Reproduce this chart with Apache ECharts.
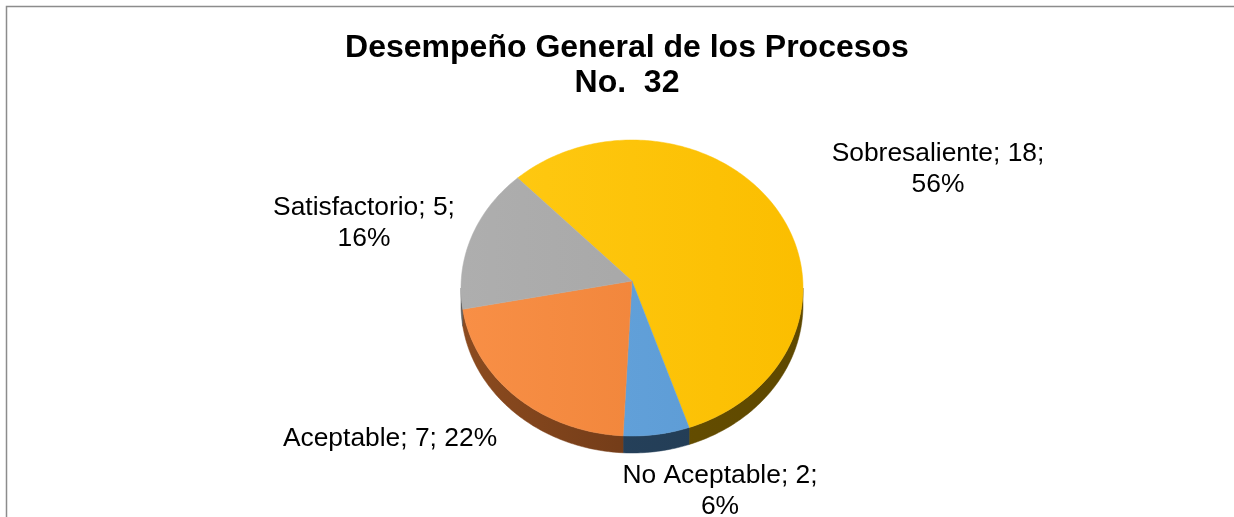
<!DOCTYPE html>
<html><head><meta charset="utf-8">
<script src="https://cdn.jsdelivr.net/npm/echarts@6/dist/echarts.min.js"></script>
<style>html,body{margin:0;padding:0;background:#fff}#c{width:1234px;height:517px}</style>
</head><body><div id="c"></div>
<script>
// ---- data ----
const titleLines = ['Desempeño General de los Procesos', 'No.  32'];
const categories = ['Sobresaliente', 'No Aceptable', 'Aceptable', 'Satisfactorio'];
const values = [18, 2, 7, 5];

// ---- styles / layout ----
const topColors = [['#FFCA14', '#FBBE00'], ['#67A7DF', '#5A98D2'], ['#F88F46', '#EC7F33'], ['#AEAEAE', '#A3A3A3']];
const sideColors = [['#6E5500', '#5E4800'], ['#284560', '#213A52'], ['#8C4B1F', '#5A2D12'], ['#5A5A5A', '#4A4A4A']];
const L = { cx: 632, cy: 288, ax: 632, ay: 281, rx: 171, ry: 148, depth: 17, start: -42 };
const labelCenters = [[938, 169], [720, 491], [390, 439], [364, 223]];
const labelWrap = [true, true, false, true];
const FONT = "'Liberation Sans', Arial, sans-serif";

const total = values.reduce((a, b) => a + b, 0);
let acc = 0;
const pieData = values.map((v, i) => { const d = [v, acc, i]; acc += v; return d; });

function pt(deg, dy) {
  const r = deg * Math.PI / 180;
  return [L.cx + L.rx * Math.sin(r), L.cy - L.ry * Math.cos(r) + (dy || 0)];
}
function arc(a, b, dy) {
  const pts = [];
  const n = Math.max(2, Math.ceil(Math.abs(b - a)));
  for (let k = 0; k <= n; k++) pts.push(pt(a + (b - a) * k / n, dy));
  return pts;
}
function angles(api) {
  const v = api.value(0), c = api.value(1);
  const s = L.start + c / total * 360;
  return [s, s + v / total * 360];
}
function grad(cols) {
  return new echarts.graphic.LinearGradient(L.cx - L.rx, 0, L.cx + L.rx, 0,
    [{ offset: 0, color: cols[0] }, { offset: 1, color: cols[1] }], true);
}

function renderSide(params, api) {
  const [s, e] = angles(api);
  const i = api.value(2);
  const children = [];
  [[90, 270], [450, 630], [-270, -90]].forEach(([lo, hi]) => {
    const a = Math.max(s, lo), b = Math.min(e, hi);
    if (b > a) {
      const top = arc(a, b, 0), bot = arc(a, b, L.depth).reverse();
      children.push({ type: 'polygon', shape: { points: top.concat(bot) },
        style: { fill: grad(sideColors[i]), stroke: grad(sideColors[i]), lineWidth: 0.5 } });
    }
  });
  return { type: 'group', children };
}

function renderTop(params, api) {
  const [s, e] = angles(api);
  const i = api.value(2);
  const v = api.value(0);
  const pts = [[L.ax, L.ay]].concat(arc(s, e, 0));
  const pct = Math.round(v / total * 100) + '%';
  const txt = categories[i] + '; ' + v + ';' + (labelWrap[i] ? '\n' : ' ') + pct;
  return { type: 'group', children: [
    { type: 'polygon', shape: { points: pts },
      style: { fill: grad(topColors[i]), stroke: grad(topColors[i]), lineWidth: 0.5 } },
    { type: 'text', z2: 10, style: { text: txt, x: labelCenters[i][0], y: labelCenters[i][1],
      align: 'center', verticalAlign: 'middle', fontSize: 26.4, lineHeight: 31,
      fontFamily: FONT, fill: '#000' } }
  ] };
}

const chart = echarts.init(document.getElementById('c'), null, { renderer: 'canvas' });
chart.setOption({
  animation: false,
  backgroundColor: '#fff',
  title: {
    text: titleLines.join('\n'), left: 622, top: 26, textAlign: 'center',
    textStyle: { fontFamily: FONT, fontSize: 32, fontWeight: 'bold', color: '#000', lineHeight: 35 }
  },
  graphic: [{ type: 'rect', silent: true, z: -10,
    shape: { x: 6.5, y: 6.5, width: 1300, height: 600 },
    style: { fill: null, stroke: '#8C8C8C', lineWidth: 1.5 } }],
  series: [
    { type: 'custom', coordinateSystem: 'none', z: 1, data: pieData, renderItem: renderSide },
    { type: 'custom', coordinateSystem: 'none', z: 2, data: pieData, renderItem: renderTop }
  ]
});
</script></body></html>
